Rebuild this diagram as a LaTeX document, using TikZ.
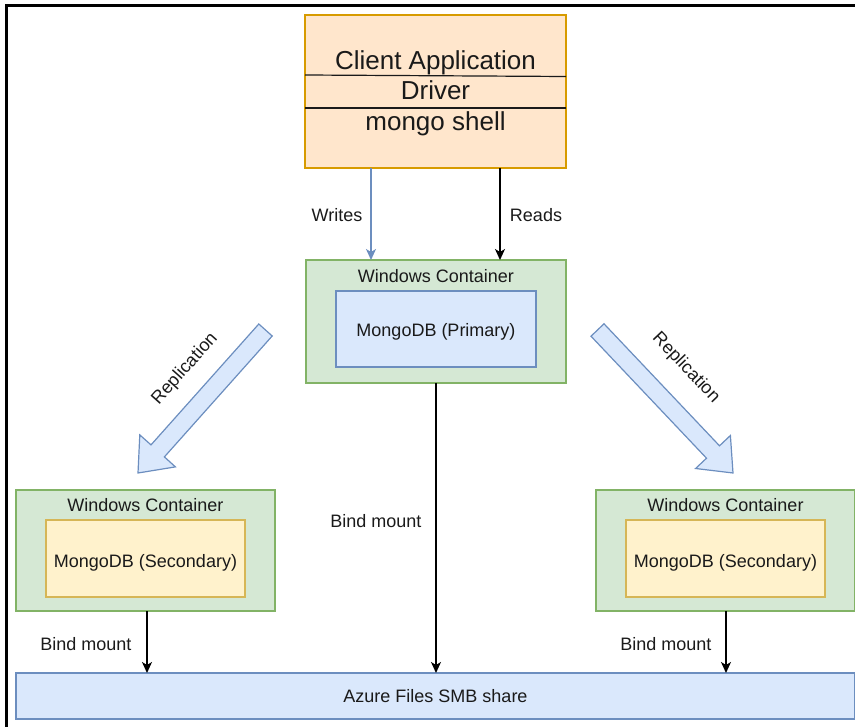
\documentclass[tikz,border=0pt]{standalone}
\usepackage{fontspec}
\setmainfont{Liberation Sans}
\usetikzlibrary{arrows.meta,calc}
\definecolor{orfill}{HTML}{FFE6CC}
\definecolor{ordraw}{HTML}{D79B00}
\definecolor{grfill}{HTML}{D5E8D4}
\definecolor{grdraw}{HTML}{82B366}
\definecolor{blfill}{HTML}{DAE8FC}
\definecolor{bldraw}{HTML}{6C8EBF}
\definecolor{yefill}{HTML}{FFF2CC}
\definecolor{yedraw}{HTML}{D6B656}
\definecolor{txt}{HTML}{1A1A1A}
\tikzset{
  box/.style={draw, line width=1.2pt, inner sep=0pt, outer sep=0pt},
  contbox/.style={box, fill=grfill, draw=grdraw, minimum width=259pt, minimum height=122pt},
  primbox/.style={box, fill=blfill, draw=bldraw, minimum width=200pt, minimum height=76pt},
  secbox/.style={box, fill=yefill, draw=yedraw, minimum width=199pt, minimum height=77pt},
  lbl/.style={font=\fontsize{18}{21}\selectfont, text=txt, anchor=base, inner sep=0pt},
  big/.style={font=\fontsize{26}{30}\selectfont, text=txt, anchor=base, inner sep=0pt},
  conn/.style={line width=1.5pt, -{Stealth[length=11pt,width=10pt,inset=3pt]}},
  blockarrow/.style={fill=blfill, draw=bldraw, line width=1.2pt, line join=miter}
}
\begin{document}
\begin{tikzpicture}[x=1pt,y=-1pt]
\useasboundingbox (0,0) rectangle (855,727);
% frame
\draw[line width=3pt, line cap=rect] (6,727) -- (6,6) -- (855,6);

% client box
\node[box, fill=orfill, draw=ordraw, minimum width=261pt, minimum height=153pt] (client) at (435.5,91.5) {};
\draw[line width=1.2pt, txt] (client.west |- 0,75) -- (client.east |- 0,76.5);
\draw[line width=1.2pt, txt] (client.west |- 0,108) -- (client.east |- 0,108);
\node[big] (ca) at (435.5,69.5) {Client Application};
\node[big] (dr) at (435.5,100) {Driver};
\node[big] (ms) at (435.5,130.5) {mongo shell};

% primary container
\node[contbox, minimum width=260pt, minimum height=123pt] (prim) at (436,321.5) {};
\node[lbl] (primt) at (436,282.5) {Windows Container};
\node[primbox] (primdb) at (436,329) {};
\node[lbl] (primdbt) at (436,336.5) {MongoDB (Primary)};

% left secondary
\node[contbox, minimum height=121pt] (sec1) at (145.5,550.5) {};
\node[lbl] (sec1t) at (145.5,511.7) {Windows Container};
\node[secbox] (sec1db) at (145.5,558.5) {};
\node[lbl] (sec1dbt) at (145.5,567.5) {MongoDB (Secondary)};

% right secondary
\node[contbox, minimum height=121pt] (sec2) at (725.5,550.5) {};
\node[lbl] (sec2t) at (725.5,511.7) {Windows Container};
\node[secbox] (sec2db) at (725.5,558.5) {};
\node[lbl] (sec2dbt) at (725.5,567.5) {MongoDB (Secondary)};

% share bar
\node[box, fill=blfill, draw=bldraw, minimum width=839pt, minimum height=46pt] (share) at (435.5,696) {};
\node[lbl] (sharet) at (435.5,702) {Azure Files SMB share};

% writes / reads
\draw[conn, draw=bldraw] ([xshift=-64.5pt]client.south) -- ([xshift=-65pt]prim.north);
\node[lbl] (wr) at (337,222) {Writes};
\draw[conn, draw=black] ([xshift=64.5pt]client.south) -- ([xshift=64pt]prim.north);
\node[lbl] (rd) at (536,222) {Reads};

% bind mounts
\draw[conn] (prim.south) -- (prim.south |- share.north);
\node[lbl] (bm0) at (376,527) {Bind mount};
\draw[conn] ([xshift=1.5pt]sec1.south) -- ([xshift=1.5pt]sec1.south |- share.north);
\node[lbl] (bm1) at (86,650) {Bind mount};
\draw[conn] ([xshift=0.5pt]sec2.south) -- ([xshift=0.5pt]sec2.south |- share.north);
\node[lbl] (bm2) at (666,650) {Bind mount};

% replication block arrows
\draw[blockarrow] (258.8,324.0) -- (272.2,336.0) -- (164.4,456.9) -- (175.4,466.9)
  -- (138,473) -- (139.8,434.9) -- (151.0,444.9) -- cycle;
\node[lbl, anchor=center, rotate=48.3] (rep1) at (185,369) {Replication};
\draw[blockarrow] (604.0,323.8) -- (719.5,445.8) -- (730.4,435.5) -- (733,473)
  -- (695.6,468.5) -- (706.5,458.2) -- (591.0,336.2) -- cycle;
\node[lbl, anchor=center, rotate=-46.5] (rep2) at (686,368) {Replication};
\end{tikzpicture}
\end{document}
